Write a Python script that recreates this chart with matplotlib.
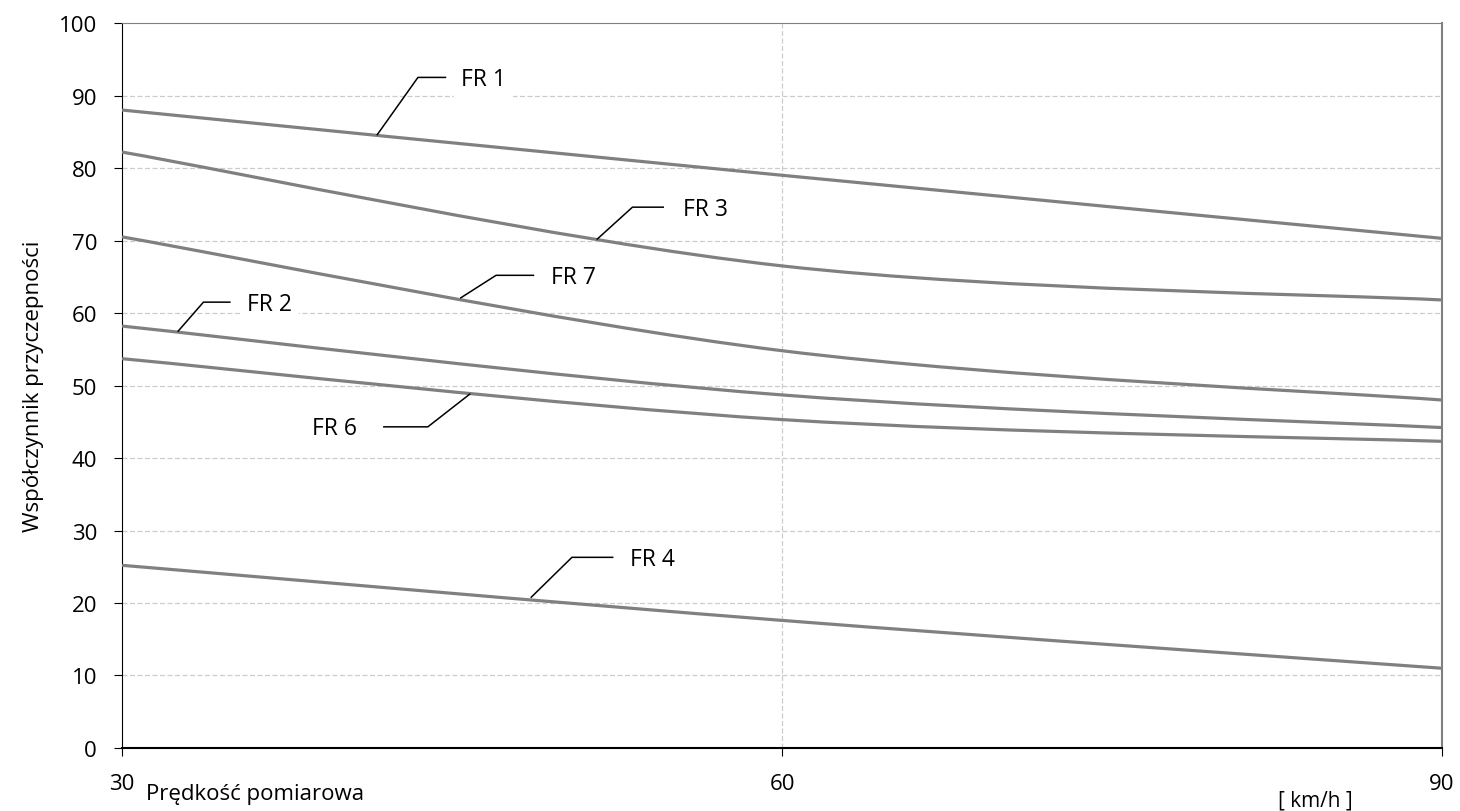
import matplotlib.pyplot as plt
from matplotlib.path import Path
from matplotlib.patches import PathPatch

plt.rcParams['font.family'] = ['Open Sans', 'DejaVu Sans']

speed = [30, 60, 90]
series = {
    "FR 1": [88.0, 79.0, 70.3],
    "FR 3": [82.2, 66.5, 61.8],
    "FR 7": [70.5, 54.8, 48.0],
    "FR 2": [58.2, 48.7, 44.2],
    "FR 6": [53.7, 45.3, 42.3],
    "FR 4": [25.2, 17.6, 11.0],
}

# label: (point on curve, elbow, end of leader, text pos, ha)
labels = {
    "FR 1": ((41.6, 84.6), (43.45, 92.5), (44.7, 92.5), (45.4, 92.3), "left"),
    "FR 3": ((51.6, 70.2), (53.2, 74.6), (54.6, 74.6), (55.5, 74.4), "left"),
    "FR 7": ((45.4, 62.1), (47.0, 65.2), (48.7, 65.2), (49.5, 65.0), "left"),
    "FR 2": ((32.55, 57.5), (33.7, 61.5), (34.9, 61.5), (35.7, 61.3), "left"),
    "FR 6": ((45.8, 48.8), (43.9, 44.3), (41.9, 44.3), (40.7, 44.1), "right"),
    "FR 4": ((48.6, 20.8), (50.45, 26.3), (52.3, 26.3), (53.1, 26.1), "left"),
}


def smooth_path(xs, ys):
    # Excel-style smoothed line (Bezier through the points)
    pts = list(zip(xs, ys))
    n = len(pts)
    verts = [pts[0]]
    codes = [Path.MOVETO]
    for i in range(n - 1):
        p0 = pts[i - 1] if i > 0 else pts[i]
        p1 = pts[i]
        p2 = pts[i + 1]
        p3 = pts[i + 2] if i + 2 < n else pts[i + 1]
        c1 = (p1[0] + (p2[0] - p0[0]) / 6, p1[1] + (p2[1] - p0[1]) / 6)
        c2 = (p2[0] - (p3[0] - p1[0]) / 6, p2[1] - (p3[1] - p1[1]) / 6)
        verts += [c1, c2, p2]
        codes += [Path.CURVE4] * 3
    return Path(verts, codes)


fig = plt.figure(figsize=(14.6, 8.12), dpi=100)
ax = fig.add_axes([0.0836, 0.0776, 0.9041, 0.8928])

ax.set_xlim(30, 90)
ax.set_ylim(0, 100)
ax.set_xticks(speed)
ax.set_yticks(range(0, 101, 10))
ax.tick_params(labelsize=16, length=6, direction="out")
ax.tick_params(axis="y", pad=12)
ax.tick_params(axis="x", pad=12)

for y in range(10, 100, 10):
    ax.axhline(y, color="#cccccc", lw=0.9, ls=(0, (4, 2)), zorder=1)
ax.axvline(60, color="#cccccc", lw=0.9, ls=(0, (4, 2)), zorder=1)

for name, vals in series.items():
    ax.add_patch(PathPatch(smooth_path(speed, vals), fill=False,
                           edgecolor="#808080", lw=2.3, zorder=3))

for name, (p, e, end, t, ha) in labels.items():
    ax.plot([p[0], e[0], end[0]], [p[1], e[1], end[1]], color="black", lw=1.1, zorder=4)
    ax.text(t[0], t[1], name, fontsize=16.5, ha=ha, va="center", zorder=5,
            bbox=dict(facecolor="white", edgecolor="none", pad=5))

ax.spines["top"].set_color("#808080")
ax.spines["right"].set_color("#808080")
ax.spines["right"].set_linewidth(1.5)
ax.spines["left"].set_color("black")
ax.spines["bottom"].set_color("black")
ax.spines["bottom"].set_linewidth(1.5)

ax.set_ylabel("Współczynnik przyczepności", fontsize=16, labelpad=11)
fig.text(0.175, 0.022, "Prędkość pomiarowa", fontsize=16, ha="center", va="center")
fig.text(0.901, 0.013, "[ km/h ]", fontsize=15, ha="center", va="center")

fig.savefig("out.png", dpi=100)
